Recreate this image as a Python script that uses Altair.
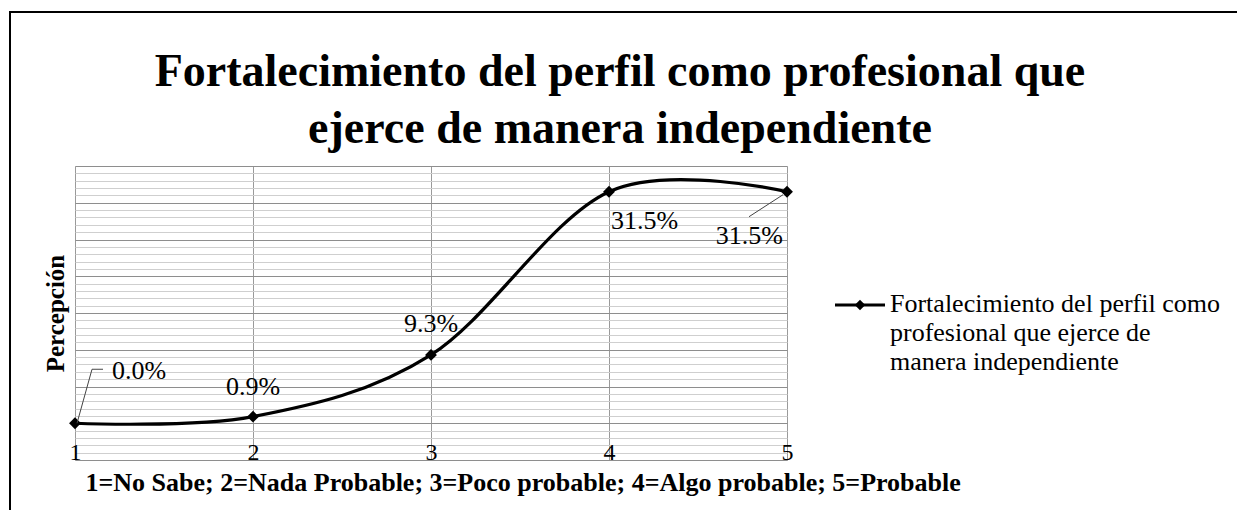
import altair as alt
import pandas as pd

# ---- data ----
x_vals = [1, 2, 3, 4, 5]
y_vals = [0.0, 0.9, 9.3, 31.5, 31.5]
point_labels = ["0.0%", "0.9%", "9.3%", "31.5%", "31.5%"]
x_ticks = [1, 2, 3, 4, 5]
y_grid = list(range(-5, 36))
title_lines = ["Fortalecimiento del perfil como profesional que",
               "ejerce de manera independiente"]
series_lines = ["Fortalecimiento del perfil como",
                "profesional que ejerce de",
                "manera independiente"]
x_title = "1=No Sabe; 2=Nada Probable; 3=Poco probable; 4=Algo probable; 5=Probable"
y_title = "Percepción"

SERIF = "Liberation Serif"

df = pd.DataFrame({"x": x_vals, "y": y_vals, "label": point_labels})
one = pd.DataFrame({"a": [0]})

xscale = alt.Scale(domain=[1, 5], nice=False, zero=False)
yscale = alt.Scale(domain=[-5, 35], nice=False, zero=False)

x_enc = alt.X(
    "x:Q", scale=xscale,
    axis=alt.Axis(
        values=x_ticks, format="d", grid=True, gridColor="#9a9a9a", gridWidth=1,
        domain=False, ticks=False, labelFlush=False,
        labelPadding=-1, labelBaseline="alphabetic",
        labelFont=SERIF, labelFontSize=24, labelColor="black",
        title=x_title, titleFont=SERIF, titleFontSize=26, titleFontWeight="bold",
        titleColor="black", titleAnchor="start", titleAlign="left",
        titleX=10, titleY=30, titleBaseline="alphabetic",
    ),
)
y_enc = alt.Y(
    "y:Q", scale=yscale,
    axis=alt.Axis(
        values=y_grid, labels=False, ticks=False, domain=False, grid=True,
        gridColor={"condition": {"test": "datum.value % 5 === 0", "value": "#8e8e8e"},
                   "value": "#cfcfcf"},
        gridWidth=1,
        title=y_title, titleFont=SERIF, titleFontSize=25, titleFontWeight="bold",
        titleColor="black", titlePadding=7,
    ),
)

base = alt.Chart(df)

line = base.mark_line(interpolate="cardinal", tension=0, color="black",
                      strokeWidth=3.2).encode(x=x_enc, y=y_enc)
points = base.mark_point(shape="diamond", filled=True, color="black",
                         size=140, opacity=1).encode(x=x_enc, y=y_enc)

label_style = [(1, "left", 37, -52), (2, "center", 0, -30), (3, "center", 0, -31),
               (4, "left", 2, 29), (5, "right", -4, 44)]
texts = []
for xv, al, dx, dy in label_style:
    texts.append(
        base.transform_filter(alt.datum.x == xv)
        .mark_text(font=SERIF, fontSize=26, color="black", align=al,
                   baseline="middle", dx=dx, dy=dy)
        .encode(x=x_enc, y=y_enc, text="label:N")
    )

# leader lines
lead1a = base.transform_filter(alt.datum.x == 1).mark_rule(
    color="#444", strokeWidth=1, xOffset=2, x2Offset=17, y2Offset=-54
).encode(x=x_enc, y=y_enc, x2=alt.X2("x"), y2=alt.Y2("y"))
lead1b = base.transform_filter(alt.datum.x == 1).mark_rule(
    color="#444", strokeWidth=1, xOffset=17, yOffset=-54, x2Offset=28, y2Offset=-54
).encode(x=x_enc, y=y_enc, x2=alt.X2("x"), y2=alt.Y2("y"))
lead5 = base.transform_filter(alt.datum.x == 5).mark_rule(
    color="#444", strokeWidth=1, xOffset=-4, yOffset=3, x2Offset=-38, y2Offset=25
).encode(x=x_enc, y=y_enc, x2=alt.X2("x"), y2=alt.Y2("y"))

# legend (drawn by hand to allow a wrapped label)
leg_rule = alt.Chart(one).mark_rule(color="black", strokeWidth=3).encode(
    x=alt.value(760), x2=alt.value(810), y=alt.value(139))
leg_point = alt.Chart(one).mark_point(shape="diamond", filled=True, color="black",
                                      size=110, opacity=1).encode(
    x=alt.value(785), y=alt.value(139))
leg_text = alt.Chart(one).mark_text(
    text=series_lines, font=SERIF, fontSize=26, color="black", align="left",
    baseline="top", lineHeight=29).encode(x=alt.value(815), y=alt.value(125))

# chart title (as text, centred on the outer frame)
title_text = alt.Chart(one).mark_text(
    text=title_lines, font=SERIF, fontSize=46, fontWeight="bold", color="black",
    align="center", baseline="alphabetic", lineHeight=57).encode(
    x=alt.value(545), y=alt.value(-80))

# outer frame
frame = alt.Chart(one).mark_rect(fillOpacity=0, stroke="black", strokeWidth=2).encode(
    x=alt.value(-65), y=alt.value(-154), x2=alt.value(1300), y2=alt.value(600))

chart = alt.layer(
    frame, line, points, *texts, lead1a, lead1b, lead5,
    leg_rule, leg_point, leg_text, title_text
).properties(
    width=712, height=294,
    padding={"left": 67, "top": 158, "right": 450, "bottom": 50},
    autosize=alt.AutoSizeParams(type="none"),
).configure_view(stroke="#9a9a9a", strokeWidth=1).configure(background="white")

chart.save("out.html", embed_options={"renderer": "svg", "actions": False})
